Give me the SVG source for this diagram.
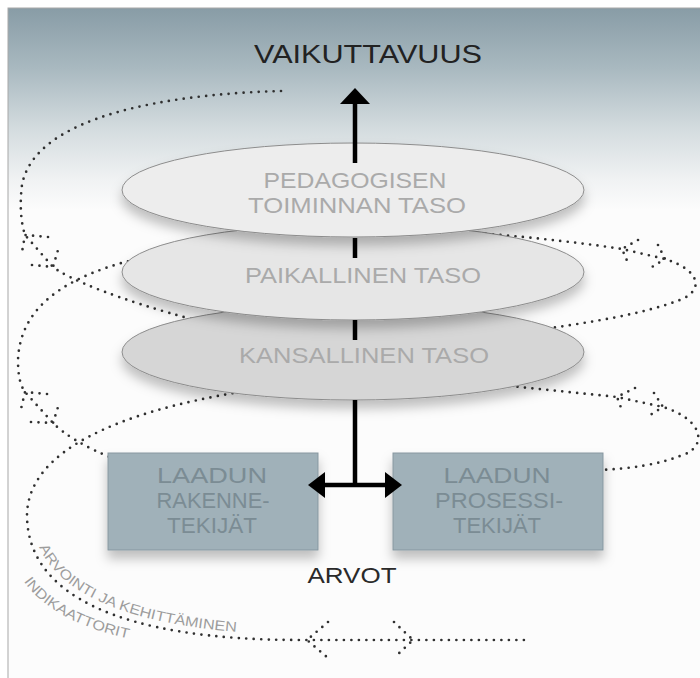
<svg xmlns="http://www.w3.org/2000/svg" width="700" height="678" viewBox="0 0 700 678">
  <defs>
    <linearGradient id="bg" x1="0" y1="8" x2="0" y2="210" gradientUnits="userSpaceOnUse">
      <stop offset="0" stop-color="#889ca6"/>
      <stop offset="0.3" stop-color="#a9b9c0"/>
      <stop offset="0.6" stop-color="#d4dcdf"/>
      <stop offset="0.85" stop-color="#f0f2f3"/>
      <stop offset="1" stop-color="#fcfcfc"/>
    </linearGradient>
    <filter id="shadow" x="-20%" y="-30%" width="140%" height="170%">
      <feDropShadow dx="0" dy="8" stdDeviation="6" flood-color="#000" flood-opacity="0.25"/>
    </filter>
    <path id="arcInner" d="M 32,512 C 32,590 124,632 300,635"/>
    <path id="arcOuter" d="M 11,550 C 19,598 73,636 178,646"/>
    <style>
      .dot { fill: none; stroke: #303030; stroke-width: 2.7; stroke-linecap: round; stroke-dasharray: 0 7.5; }
      .ell { stroke: #8c8c8c; stroke-width: 1; filter: url(#shadow); }
      .etxt { font-family: "Liberation Sans", Arial, sans-serif; font-size: 22px; fill: #aaaaaa; text-anchor: middle; }
      .box { fill: #a0b1b9; stroke: #8797a0; stroke-width: 1; filter: url(#shadow); }
      .btxt { font-family: "Liberation Sans", Arial, sans-serif; font-size: 22px; fill: #7b8c94; text-anchor: middle; }
      .title { font-family: "Liberation Sans", Arial, sans-serif; font-size: 25px; fill: #222; text-anchor: middle; }
      .arvot { font-family: "Liberation Sans", Arial, sans-serif; font-size: 22px; fill: #2a2a2a; text-anchor: middle; }
      .arc { font-family: "Liberation Sans", Arial, sans-serif; font-size: 14px; fill: #9c9c9c; }
      .conn { stroke: #000; stroke-width: 4.5; fill: none; }
      .head { fill: #000; }
    </style>
  </defs>

  <rect x="0" y="0" width="700" height="678" fill="#ffffff"/>
  <rect x="8" y="8" width="700" height="680" fill="url(#bg)" stroke="#a8a8a8" stroke-width="1"/>

  <g id="cycle">
    <path class="dot" d="M 281,91 C 170,94 35,115 22,185 C 20,200 20,220 25,235 L 53,267 C 70,280 120,300 195,320"/>
    <path class="dot" d="M 48,237 L 25,235 L 22,252"/>
    <path class="dot" d="M 32,265 L 53,267 L 58,250"/>

    <path class="dot" d="M 150,256 C 60,275 20,310 18,360 C 18,375 20,385 25,392 L 53,423 C 65,435 85,447 112,458"/>
    <path class="dot" d="M 47,394 L 25,392 L 21,409"/>
    <path class="dot" d="M 31,422 L 53,423 L 58,407"/>

    <path class="dot" d="M 240,392 C 120,412 28,450 27,515 C 27,595 120,640 300,640 L 527,640"/>
    <path class="dot" d="M 328,622 L 307,640 L 328,658"/>
    <path class="dot" d="M 394,622 L 413,640 L 394,658"/>

    <path class="dot" d="M 510,386 L 617,397 L 663,407 C 705,420 708,448 680,456 C 660,464 630,469 598,470"/>
    <path class="dot" d="M 635,388 L 617,397 L 623,413"/>
    <path class="dot" d="M 654,393 L 663,407 L 647,417"/>

    <path class="dot" d="M 478,233 C 540,238 590,244 622,249 L 665,259 C 700,270 705,290 680,300 C 640,315 590,322 545,329"/>
    <path class="dot" d="M 638,240 L 622,249 L 628,263"/>
    <path class="dot" d="M 658,245 L 665,259 L 652,267"/>

    <text class="arc"><textPath href="#arcInner" startOffset="36" textLength="224" lengthAdjust="spacingAndGlyphs">ARVOINTI JA KEHITTÄMINEN</textPath></text>
    <text class="arc"><textPath href="#arcOuter" startOffset="34" textLength="122" lengthAdjust="spacingAndGlyphs">INDIKAATTORIT</textPath></text>
  </g>

  <g id="kansallinen">
    <ellipse class="ell" cx="353" cy="352" rx="231" ry="48" fill="#d6d6d6"/>
    <text class="etxt" x="364" y="363" textLength="250" lengthAdjust="spacingAndGlyphs">KANSALLINEN TASO</text>
  </g>
  <g id="paikallinen">
    <ellipse class="ell" cx="353" cy="272" rx="231" ry="48" fill="#e6e6e6"/>
    <text class="etxt" x="363" y="283" textLength="236" lengthAdjust="spacingAndGlyphs">PAIKALLINEN TASO</text>
  </g>
  <g id="pedagoginen">
    <ellipse class="ell" cx="353" cy="190" rx="231" ry="47" fill="#ededed"/>
    <text class="etxt" x="355" y="188" textLength="183" lengthAdjust="spacingAndGlyphs">PEDAGOGISEN</text>
    <text class="etxt" x="357" y="213" textLength="218" lengthAdjust="spacingAndGlyphs">TOIMINNAN TASO</text>
  </g>

  <g id="vaikuttavuus">
    <text class="title" x="368" y="63" textLength="228" lengthAdjust="spacingAndGlyphs">VAIKUTTAVUUS</text>
  </g>

  <g id="rakenne">
    <rect class="box" x="108" y="453" width="210" height="97"/>
    <text class="btxt" x="212" y="483" textLength="110" lengthAdjust="spacingAndGlyphs">LAADUN</text>
    <text class="btxt" x="213" y="508" textLength="113" lengthAdjust="spacingAndGlyphs">RAKENNE-</text>
    <text class="btxt" x="212" y="533" textLength="90" lengthAdjust="spacingAndGlyphs">TEKIJÄT</text>
  </g>
  <g id="prosessi">
    <rect class="box" x="393" y="453" width="210" height="97"/>
    <text class="btxt" x="497" y="483" textLength="107" lengthAdjust="spacingAndGlyphs">LAADUN</text>
    <text class="btxt" x="499" y="508" textLength="128" lengthAdjust="spacingAndGlyphs">PROSESSI-</text>
    <text class="btxt" x="497" y="533" textLength="88" lengthAdjust="spacingAndGlyphs">TEKIJÄT</text>
  </g>

  <g id="arvot">
    <text class="arvot" x="352" y="583" textLength="89" lengthAdjust="spacingAndGlyphs">ARVOT</text>
  </g>

  <g id="connectors">
    <line class="conn" x1="355" y1="163" x2="355" y2="100"/>
    <polygon class="head" points="355,88 340,104 370,104"/>
    <line class="conn" x1="355" y1="238" x2="355" y2="258"/>
    <line class="conn" x1="355" y1="320" x2="355" y2="340"/>
    <line class="conn" x1="355" y1="400" x2="355" y2="487"/>
    <line class="conn" x1="318" y1="485" x2="392" y2="485"/>
    <polygon class="head" points="308,485 325,472 325,498"/>
    <polygon class="head" points="402,485 385,472 385,498"/>
  </g>
</svg>
